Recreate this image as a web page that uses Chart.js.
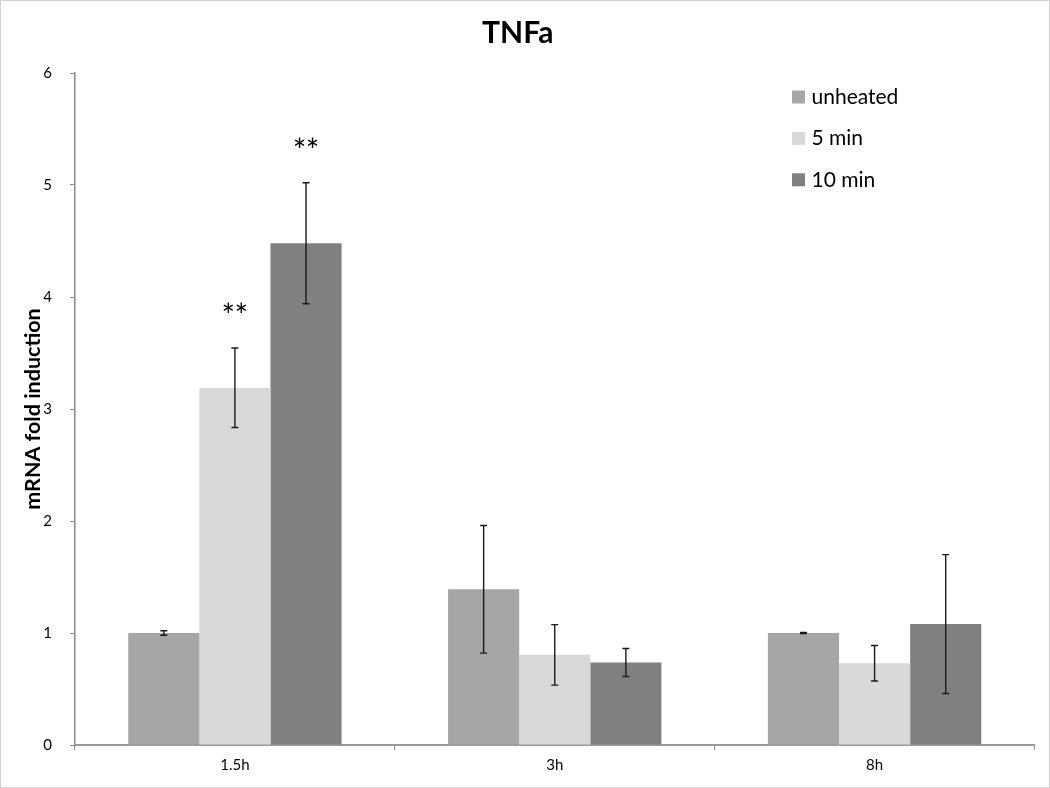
<!DOCTYPE html>
<html>
<head>
<meta charset="utf-8">
<script src="https://cdn.jsdelivr.net/npm/chart.js@4.4.1/dist/chart.umd.min.js"></script>
<style>
  html, body { margin: 0; padding: 0; background: #fff; }
  #wrap { width: 1050px; height: 788px; box-sizing: border-box; border: 1px solid #d0d0d0; }
</style>
</head>
<body>
<div id="wrap"><canvas id="tnfChart" width="1048" height="786"></canvas></div>
<script>
// TNFa mRNA fold induction

const categories = ['1.5h', '3h', '8h'];
const seriesNames = ['unheated', '5 min', '10 min'];
const unheated = [1.00, 1.39, 1.00];
const fiveMin = [3.19, 0.805, 0.73];
const tenMin = [4.48, 0.737, 1.08];
const unheatedErr = [0.02, 0.57, 0.005];
const fiveMinErr = [0.355, 0.27, 0.158];
const tenMinErr = [0.54, 0.125, 0.62];
const yTicks = [0, 1, 2, 3, 4, 5, 6];
// significance marks: [category index, series index, label]
const marks = [[0, 1, '**'], [0, 2, '**']];

const colors = ['#a6a6a6', '#d9d9d9', '#808080'];
const errors = [unheatedErr, fiveMinErr, tenMinErr];
const FONT = 'Lato, "Open Sans", sans-serif';

const errorBars = {
    id: 'errorBars',
    afterDatasetsDraw(chart) {
        const ctx = chart.ctx;
        const y = chart.scales.y;
        ctx.save();
        ctx.strokeStyle = '#1a1a1a';
        ctx.lineWidth = 1.4;
        chart.data.datasets.forEach((ds, i) => {
            const meta = chart.getDatasetMeta(i);
            meta.data.forEach((bar, j) => {
                const v = ds.data[j];
                const e = errors[i][j];
                const top = y.getPixelForValue(v + e);
                const bot = y.getPixelForValue(v - e);
                ctx.beginPath();
                ctx.moveTo(bar.x, top); ctx.lineTo(bar.x, bot);
                ctx.moveTo(bar.x - 3.5, top); ctx.lineTo(bar.x + 3.5, top);
                ctx.moveTo(bar.x - 3.5, bot); ctx.lineTo(bar.x + 3.5, bot);
                ctx.stroke();
            });
        });
        // asterisks, centred on their own ink box
        ctx.fillStyle = '#000';
        ctx.font = '32px ' + FONT;
        ctx.textAlign = 'center';
        ctx.textBaseline = 'alphabetic';
        marks.forEach(([c, s, label]) => {
            const bar = chart.getDatasetMeta(s).data[c];
            const v = chart.data.datasets[s].data[c] + errors[s][c];
            const cy = y.getPixelForValue(v) - 40;
            const m = ctx.measureText('*');
            const off = (m.actualBoundingBoxAscent - m.actualBoundingBoxDescent) / 2;
            for (let k = 0; k < label.length; k++) {
                ctx.fillText('*', bar.x + (k - (label.length - 1) / 2) * 13, cy + off);
            }
        });
        ctx.restore();
    }
};

const cornerLegend = {
    id: 'cornerLegend',
    afterDraw(chart) {
        const ctx = chart.ctx;
        ctx.save();
        ctx.font = '21px ' + FONT;
        ctx.textBaseline = 'middle';
        ctx.textAlign = 'left';
        chart.data.datasets.forEach((ds, i) => {
            const cy = 96 + i * 41.4;
            ctx.fillStyle = ds.backgroundColor;
            ctx.fillRect(791, cy - 6.5, 13, 13);
            ctx.fillStyle = '#000';
            ctx.fillText(ds.label, 810.5, cy);
        });
        ctx.restore();
    }
};

const ctx = document.getElementById('tnfChart').getContext('2d');
new Chart(ctx, {
    type: 'bar',
    data: {
        labels: categories,
        datasets: [
            { label: seriesNames[0], data: unheated, backgroundColor: colors[0] },
            { label: seriesNames[1], data: fiveMin, backgroundColor: colors[1] },
            { label: seriesNames[2], data: tenMin, backgroundColor: colors[2] }
        ]
    },
    options: {
        responsive: false,
        animation: false,
        layout: { padding: { left: 0, right: 14.5, bottom: 0 } },
        datasets: { bar: { categoryPercentage: 0.667, barPercentage: 1.0 } },
        plugins: {
            legend: { display: false },
            tooltip: { enabled: false },
            title: {
                display: true,
                text: 'TNFa',
                color: '#000',
                font: { family: FONT, size: 30, weight: 'bold' },
                padding: { top: 14, bottom: 22 }
            }
        },
        scales: {
            x: {
                afterFit(scale) { scale.height = 42; },
                grid: { offset: true, drawOnChartArea: false, tickLength: 5, color: '#8c8c8c' },
                border: { color: '#9a9a9a', width: 2 },
                ticks: { color: '#000', font: { family: FONT, size: 15 }, padding: 6 }
            },
            y: {
                min: 0,
                max: 6,
                afterFit(scale) { scale.width = 74; },
                afterBuildTicks(scale) { scale.ticks = yTicks.map(v => ({ value: v })); },
                grid: { drawOnChartArea: false, tickLength: 5, color: '#8c8c8c' },
                border: { color: '#8c8c8c', width: 1.5 },
                ticks: { color: '#000', font: { family: FONT, size: 15 }, padding: 18 },
                title: {
                    display: true,
                    text: 'mRNA fold induction',
                    color: '#000',
                    font: { family: FONT, size: 21.5, weight: 'bold' },
                    padding: { top: 19, bottom: 0 }
                }
            }
        }
    },
    plugins: [errorBars, cornerLegend]
});
</script>
</body>
</html>
